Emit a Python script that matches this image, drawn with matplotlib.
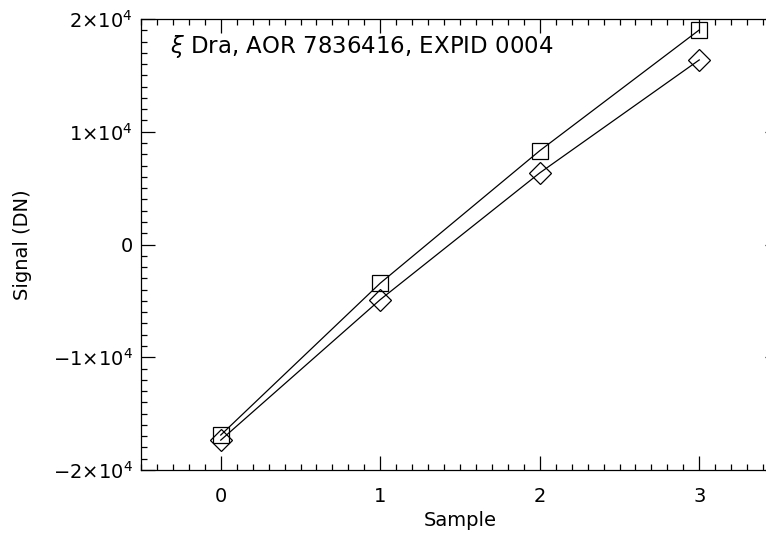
import matplotlib
matplotlib.use("Agg")
import matplotlib.pyplot as plt
from matplotlib.ticker import MultipleLocator, FuncFormatter

# samples and the two read-out ramps
sample = [0, 1, 2, 3]
signal_sq = [-16900, -3430, 8320, 19030]
signal_dm = [-17350, -4890, 6350, 16370]
title_txt = r"$\xi$ Dra, AOR 7836416, EXPID 0004"


def sci_label(v, pos):
    if v == 0:
        return "0"
    m = int(round(v / 1e4))
    sign = "\u2212" if m < 0 else ""
    return r"%s$%d{\times}10^{4}$" % (sign, abs(m))


plt.rcParams["font.family"] = "DejaVu Sans"
plt.rcParams["mathtext.fontset"] = "dejavusans"

fig = plt.figure(figsize=(7.66, 5.36), dpi=100)
# axes run off the right edge like the original
ax = fig.add_axes([141 / 766, 1 - 470 / 536, 638 / 766, 451 / 536])

ax.plot(sample, signal_sq, "-", color="black", lw=0.9,
        marker="s", ms=11.5, mfc="none", mec="black", mew=0.9)
ax.plot(sample, signal_dm, "-", color="black", lw=0.9,
        marker="D", ms=10.8, mfc="none", mec="black", mew=0.9)

ax.set_xlim(-0.5, 3.5)
ax.set_ylim(-2e4, 2e4)
ax.xaxis.set_major_locator(MultipleLocator(1))
ax.xaxis.set_minor_locator(MultipleLocator(0.1))
ax.yaxis.set_major_locator(MultipleLocator(1e4))
ax.yaxis.set_minor_locator(MultipleLocator(1e3))
ax.yaxis.set_major_formatter(FuncFormatter(sci_label))

ax.tick_params(which="both", direction="in", top=True, right=True,
               labelsize=14, color="black", width=0.9)
ax.tick_params(which="major", length=10, pad=12)
ax.tick_params(which="minor", length=4.5)
ax.tick_params(axis="y", which="major", pad=6)

for s in ax.spines.values():
    s.set_linewidth(0.9)
ax.spines["right"].set_visible(False)

ax.set_xlabel("Sample", fontsize=14, labelpad=4)
ax.set_ylabel("Signal (DN)", fontsize=14)
ax.yaxis.set_label_coords(-0.171, 0.5)

ax.text(0.045, 0.9246, title_txt, transform=ax.transAxes,
        fontsize=16.5, va="baseline", ha="left")

fig.savefig("out.png", dpi=100)
